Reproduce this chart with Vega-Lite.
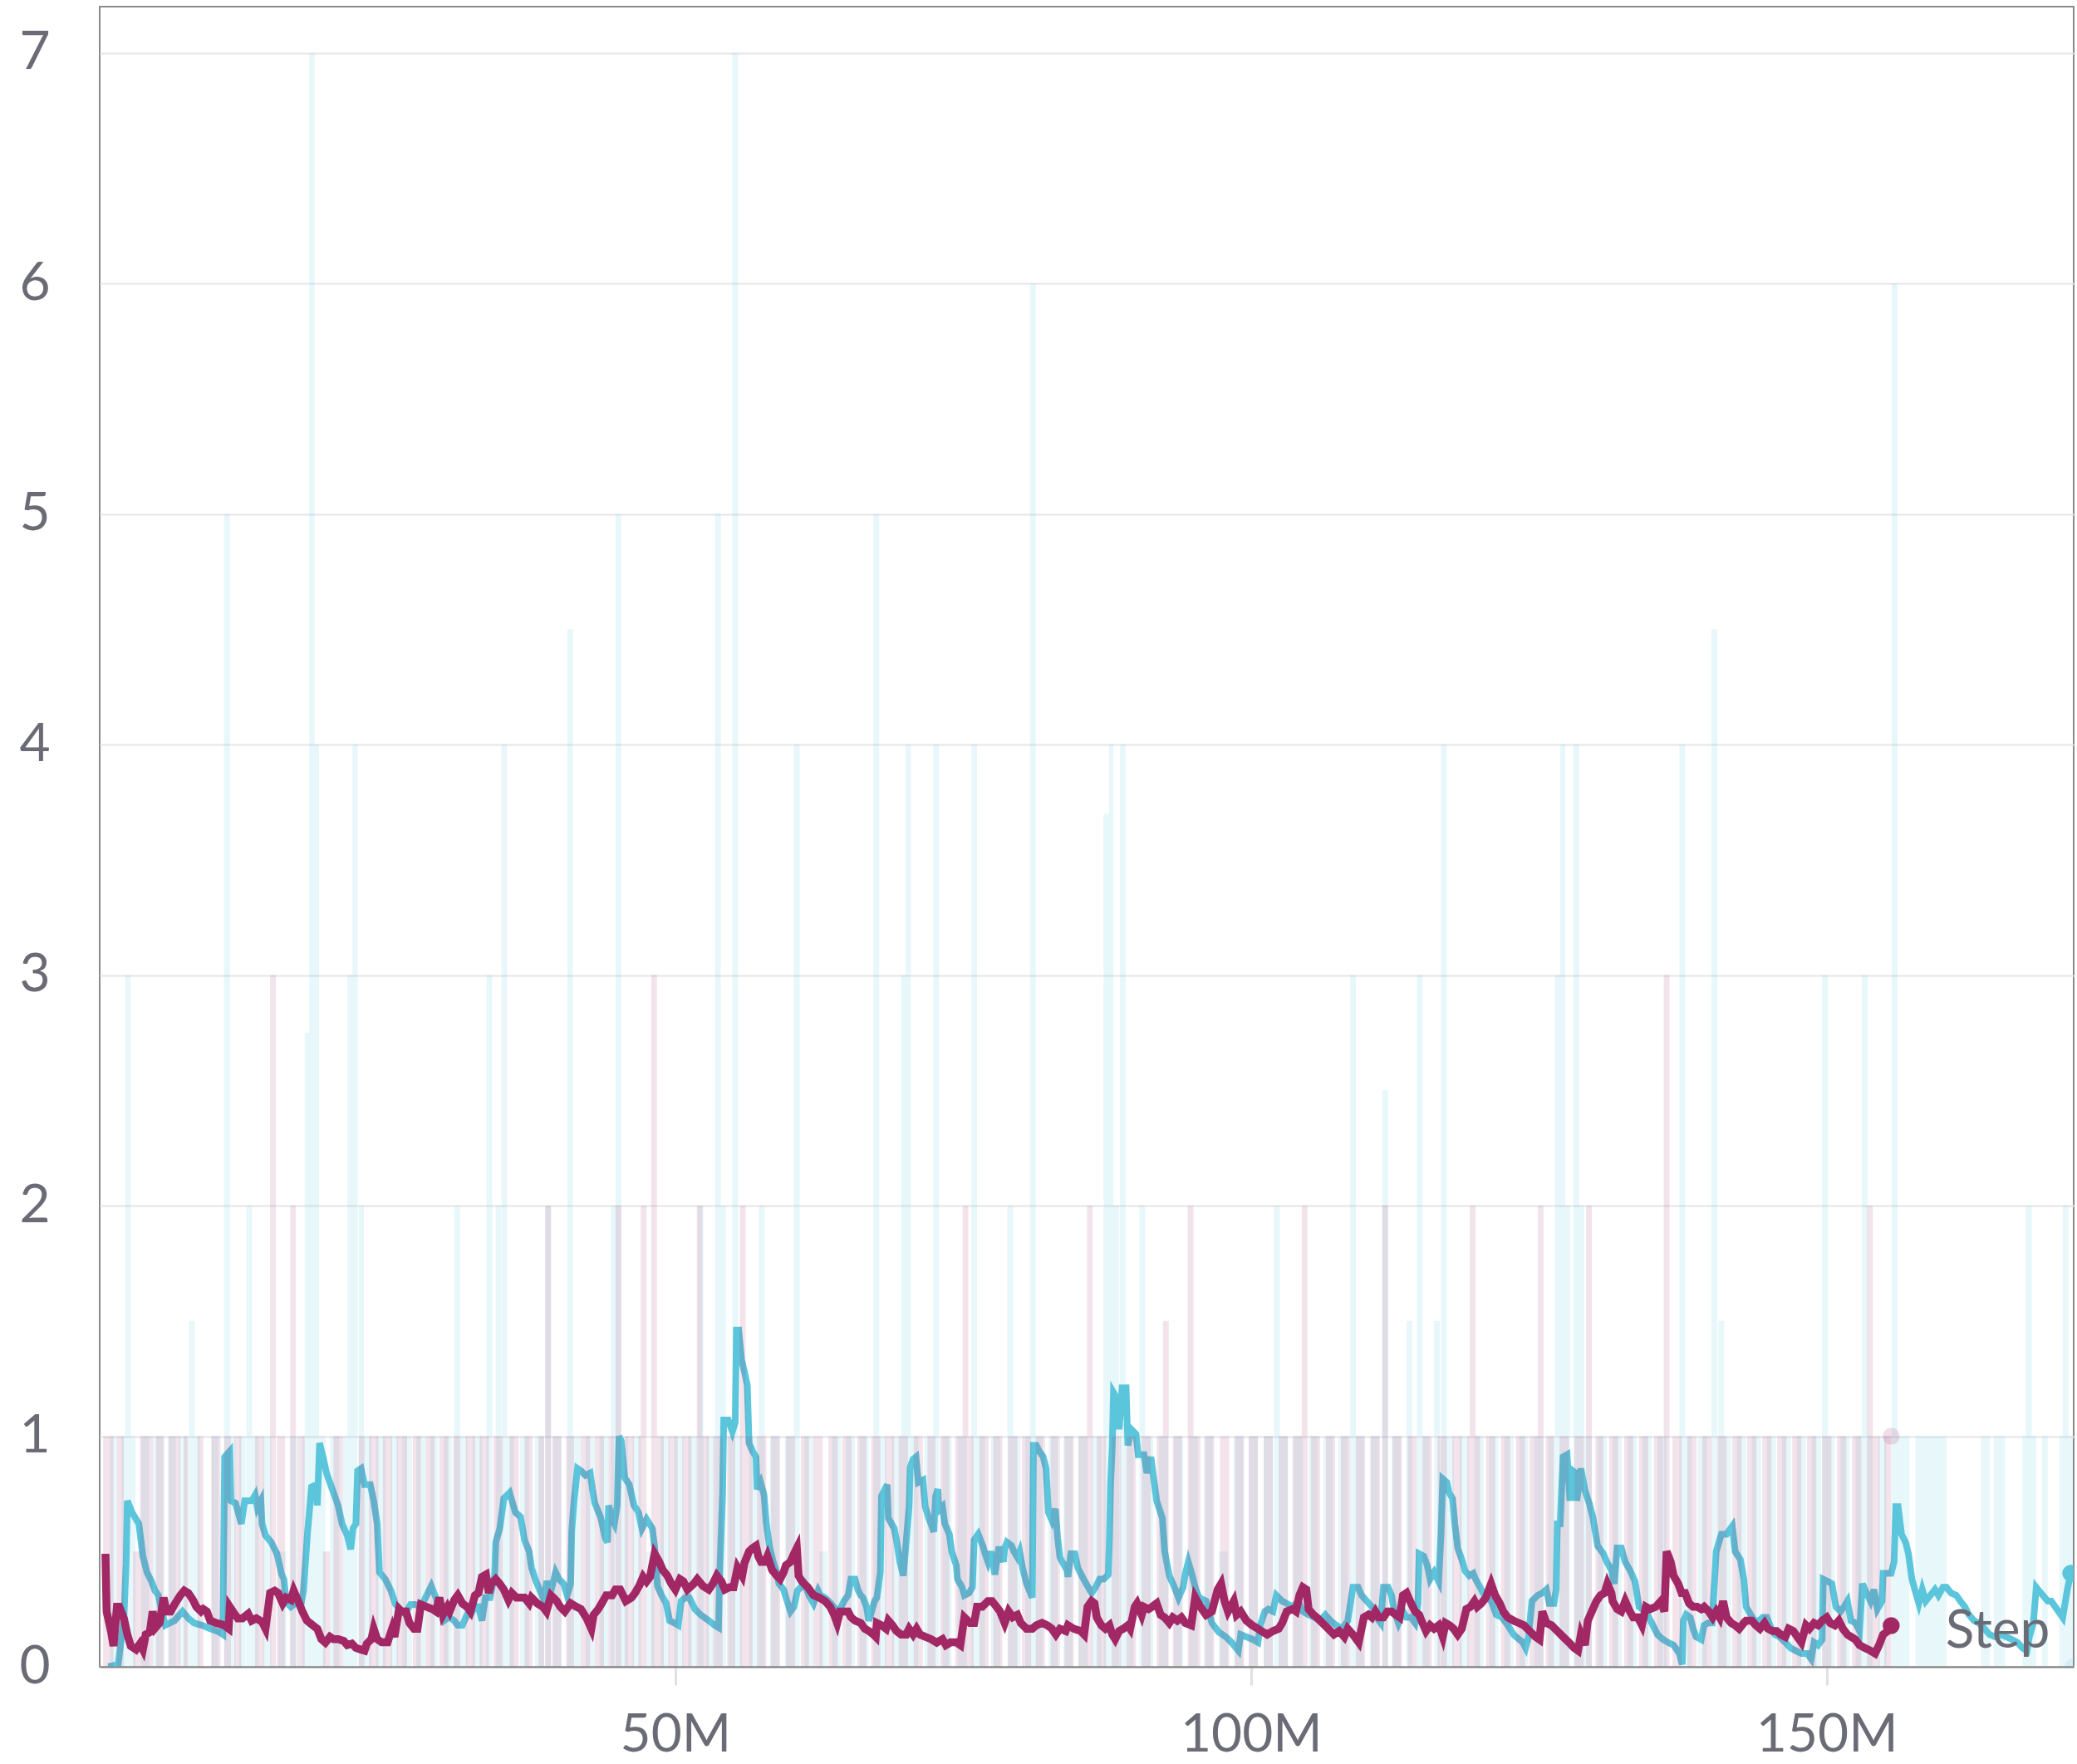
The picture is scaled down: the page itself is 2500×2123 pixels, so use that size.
{
"$schema":"https://vega.github.io/schema/vega-lite/v6.json",
"autosize":{"type":"none"},
"width":2376,"height":1998,
"padding":{"left":120,"top":8,"right":4,"bottom":117},
"background":"white",
"config":{"view":{"stroke":"#8a8a8a","strokeWidth":2},"font":"Lato"},
"datasets":{
"rc":[
{"x":0.9,"x2":1.5,"y":1},{"x":1.9,"x2":2.2,"y":1},{"x":2.2,"x2":2.7,"y":3},{"x":2.7,"x2":3.1,"y":1},{"x":3.6,"x2":4.3,"y":1},{"x":4.6,"x2":5.5,"y":1},{"x":5.9,"x2":6.6,"y":1},{"x":6.9,"x2":7.6,"y":1},{"x":7.75,"x2":8.25,"y":1.5},{"x":8.25,"x2":8.7,"y":1},{"x":9.7,"x2":10.3,"y":1},{"x":10.8,"x2":11.3,"y":5},{"x":11.3,"x2":11.8,"y":1},{"x":12.1,"x2":12.7,"y":1},{"x":12.75,"x2":13.25,"y":2},{"x":13.25,"x2":13.8,"y":1},{"x":14.2,"x2":14.9,"y":1},{"x":15.5,"x2":16.2,"y":0.5},{"x":16.5,"x2":17.2,"y":1},{"x":17.6,"x2":17.8,"y":1},{"x":17.8,"x2":18.2,"y":2.75},{"x":18.2,"x2":18.65,"y":7},{"x":18.65,"x2":19.05,"y":4},{"x":19.05,"x2":19.6,"y":1},{"x":20.0,"x2":20.8,"y":1},{"x":21.1,"x2":21.5,"y":1},{"x":21.5,"x2":21.95,"y":3},{"x":21.95,"x2":22.4,"y":4},{"x":22.5,"x2":22.95,"y":2},{"x":22.95,"x2":23.6,"y":1},{"x":24.0,"x2":24.8,"y":1},{"x":25.3,"x2":25.9,"y":1},{"x":26.3,"x2":27.1,"y":1},{"x":27.5,"x2":28.3,"y":1},{"x":28.7,"x2":29.4,"y":1},{"x":29.9,"x2":30.6,"y":1},{"x":30.8,"x2":31.3,"y":2},{"x":31.3,"x2":31.9,"y":1},{"x":32.4,"x2":33.2,"y":1},{"x":33.6,"x2":34.1,"y":3},{"x":34.4,"x2":34.85,"y":2},{"x":34.9,"x2":35.4,"y":4},{"x":35.4,"x2":36.0,"y":1},{"x":36.5,"x2":37.3,"y":1},{"x":37.8,"x2":38.6,"y":1},{"x":38.7,"x2":39.2,"y":2},{"x":39.4,"x2":40.1,"y":1},{"x":40.6,"x2":41.1,"y":4.5},{"x":41.1,"x2":41.8,"y":1},{"x":42.2,"x2":43.0,"y":1},{"x":43.4,"x2":44.2,"y":1},{"x":44.4,"x2":44.8,"y":2},{"x":44.8,"x2":45.3,"y":5},{"x":45.3,"x2":45.9,"y":1},{"x":46.3,"x2":47.0,"y":1},{"x":47.5,"x2":48.2,"y":0.5},{"x":48.7,"x2":49.5,"y":1},{"x":49.9,"x2":50.7,"y":1},{"x":51.1,"x2":51.9,"y":1},{"x":51.95,"x2":52.45,"y":2},{"x":52.7,"x2":53.4,"y":1},{"x":53.45,"x2":53.95,"y":5},{"x":53.95,"x2":54.4,"y":2},{"x":54.6,"x2":54.95,"y":1},{"x":54.95,"x2":55.45,"y":7},{"x":55.45,"x2":55.8,"y":1},{"x":56.4,"x2":57.2,"y":1},{"x":57.25,"x2":57.75,"y":2},{"x":58.2,"x2":59.0,"y":1},{"x":59.5,"x2":60.3,"y":1},{"x":60.3,"x2":60.8,"y":4},{"x":61.2,"x2":62.0,"y":1},{"x":62.5,"x2":63.2,"y":0.5},{"x":63.6,"x2":64.4,"y":1},{"x":64.8,"x2":65.6,"y":1},{"x":66.0,"x2":66.8,"y":1},{"x":67.2,"x2":67.7,"y":5},{"x":67.7,"x2":68.3,"y":1},{"x":68.8,"x2":69.6,"y":1},{"x":69.6,"x2":70.0,"y":3},{"x":70.0,"x2":70.45,"y":4},{"x":70.45,"x2":71.1,"y":1},{"x":71.6,"x2":72.4,"y":1},{"x":72.4,"x2":72.9,"y":4},{"x":73.2,"x2":74.0,"y":1},{"x":74.5,"x2":75.3,"y":1},{"x":75.7,"x2":76.2,"y":4},{"x":76.2,"x2":76.9,"y":1},{"x":77.4,"x2":78.2,"y":1},{"x":78.85,"x2":79.35,"y":2},{"x":79.35,"x2":80.0,"y":1},{"x":80.4,"x2":80.8,"y":1},{"x":80.8,"x2":81.3,"y":6},{"x":81.3,"x2":81.9,"y":1},{"x":82.4,"x2":83.2,"y":1},{"x":83.7,"x2":84.5,"y":1},{"x":85.0,"x2":85.8,"y":1},{"x":86.2,"x2":87.0,"y":1},{"x":87.2,"x2":87.65,"y":3.7},{"x":87.65,"x2":88.05,"y":4},{"x":88.05,"x2":88.55,"y":2},{"x":88.6,"x2":89.1,"y":4},{"x":89.1,"x2":89.8,"y":1},{"x":90.3,"x2":90.8,"y":2},{"x":90.8,"x2":91.5,"y":1},{"x":92.0,"x2":92.8,"y":1},{"x":93.3,"x2":94.1,"y":1},{"x":94.6,"x2":95.4,"y":1},{"x":95.9,"x2":96.7,"y":1},{"x":97.2,"x2":98.0,"y":0.5},{"x":98.5,"x2":99.3,"y":1},{"x":99.8,"x2":100.6,"y":1},{"x":101.1,"x2":101.9,"y":1},{"x":102.0,"x2":102.5,"y":2},{"x":102.5,"x2":103.2,"y":1},{"x":103.7,"x2":104.5,"y":1},{"x":105.0,"x2":105.8,"y":1},{"x":106.3,"x2":107.1,"y":1},{"x":107.6,"x2":108.4,"y":1},{"x":108.6,"x2":109.1,"y":3},{"x":109.1,"x2":109.8,"y":1},{"x":110.3,"x2":111.1,"y":1},{"x":111.4,"x2":111.9,"y":2.5},{"x":112.2,"x2":113.0,"y":1},{"x":113.5,"x2":114.0,"y":1.5},{"x":114.4,"x2":114.9,"y":3},{"x":114.9,"x2":115.5,"y":1},{"x":115.9,"x2":116.4,"y":1.5},{"x":116.5,"x2":117.0,"y":4},{"x":117.0,"x2":117.6,"y":1},{"x":118.1,"x2":118.9,"y":1},{"x":119.4,"x2":120.2,"y":1},{"x":120.7,"x2":121.5,"y":1},{"x":122.0,"x2":122.8,"y":1},{"x":123.3,"x2":124.1,"y":1},{"x":124.6,"x2":125.4,"y":1},{"x":125.8,"x2":126.4,"y":1},{"x":126.4,"x2":126.85,"y":3},{"x":126.85,"x2":127.3,"y":4},{"x":127.3,"x2":127.7,"y":2},{"x":128.0,"x2":128.5,"y":4},{"x":128.5,"x2":128.95,"y":2},{"x":128.95,"x2":129.6,"y":1},{"x":130.1,"x2":130.9,"y":1},{"x":131.4,"x2":132.2,"y":1},{"x":132.7,"x2":133.5,"y":1},{"x":134.0,"x2":134.8,"y":1},{"x":135.3,"x2":136.1,"y":1},{"x":137.2,"x2":137.7,"y":4},{"x":137.7,"x2":138.3,"y":1},{"x":138.8,"x2":139.6,"y":1},{"x":140.0,"x2":140.5,"y":4.5},{"x":140.6,"x2":141.1,"y":1.5},{"x":141.1,"x2":141.7,"y":1},{"x":142.2,"x2":143.0,"y":1},{"x":143.5,"x2":144.3,"y":1},{"x":144.8,"x2":145.6,"y":1},{"x":146.1,"x2":146.9,"y":1},{"x":147.4,"x2":148.2,"y":1},{"x":148.7,"x2":149.5,"y":1},{"x":149.6,"x2":150.1,"y":3},{"x":150.1,"x2":150.7,"y":1},{"x":151.2,"x2":152.0,"y":1},{"x":152.5,"x2":153.05,"y":1},{"x":153.05,"x2":153.55,"y":3},{"x":153.55,"x2":154.0,"y":1},{"x":154.5,"x2":155.2,"y":1},{"x":155.65,"x2":156.15,"y":6},{"x":156.15,"x2":157.2,"y":1},{"x":157.7,"x2":160.4,"y":1},{"x":163.4,"x2":164.2,"y":1},{"x":164.5,"x2":165.5,"y":1},{"x":167.0,"x2":167.3,"y":1},{"x":167.3,"x2":167.8,"y":2},{"x":167.8,"x2":168.2,"y":1},{"x":168.7,"x2":169.2,"y":1},{"x":170.2,"x2":170.5,"y":1},{"x":170.5,"x2":171.0,"y":2},{"x":171.0,"x2":171.4,"y":1}
],
"rm":[
{"x":0.3,"x2":1.2,"y":1},{"x":1.5,"x2":2.1,"y":1},{"x":2.9,"x2":3.5,"y":0.5},{"x":3.5,"x2":4.6,"y":1},{"x":4.9,"x2":5.6,"y":1},{"x":6.0,"x2":7.0,"y":1},{"x":7.3,"x2":7.7,"y":1},{"x":8.5,"x2":9.0,"y":1},{"x":9.7,"x2":10.5,"y":1},{"x":10.8,"x2":11.4,"y":1},{"x":11.7,"x2":12.3,"y":1},{"x":13.5,"x2":14.3,"y":1},{"x":14.8,"x2":15.3,"y":3},{"x":15.4,"x2":16.1,"y":1},{"x":16.55,"x2":17.05,"y":2},{"x":17.2,"x2":17.8,"y":1},{"x":19.4,"x2":20.0,"y":0.5},{"x":20.3,"x2":21.1,"y":1},{"x":22.5,"x2":23.0,"y":1},{"x":23.4,"x2":24.2,"y":1},{"x":24.6,"x2":25.4,"y":1},{"x":25.8,"x2":26.7,"y":1},{"x":27.2,"x2":27.9,"y":1},{"x":28.3,"x2":29.1,"y":1},{"x":29.5,"x2":30.3,"y":1},{"x":30.7,"x2":31.3,"y":1},{"x":31.8,"x2":32.6,"y":1},{"x":33.0,"x2":33.8,"y":1},{"x":34.2,"x2":35.0,"y":1},{"x":35.6,"x2":36.4,"y":1},{"x":36.9,"x2":37.6,"y":1},{"x":38.1,"x2":38.6,"y":1},{"x":38.7,"x2":39.2,"y":2},{"x":39.3,"x2":40.1,"y":1},{"x":40.5,"x2":41.2,"y":1},{"x":41.8,"x2":42.6,"y":1},{"x":43.0,"x2":43.8,"y":1},{"x":44.2,"x2":44.7,"y":1},{"x":44.8,"x2":45.3,"y":2},{"x":45.6,"x2":46.4,"y":1},{"x":46.8,"x2":47.0,"y":1},{"x":47.0,"x2":47.5,"y":2},{"x":47.9,"x2":48.4,"y":3},{"x":48.4,"x2":49.0,"y":1},{"x":49.4,"x2":50.2,"y":1},{"x":50.6,"x2":51.4,"y":1},{"x":51.85,"x2":52.35,"y":2},{"x":52.35,"x2":52.9,"y":1},{"x":53.3,"x2":54.1,"y":1},{"x":54.5,"x2":55.2,"y":1},{"x":55.6,"x2":56.1,"y":2},{"x":56.1,"x2":56.7,"y":1},{"x":57.1,"x2":57.9,"y":1},{"x":58.3,"x2":59.1,"y":1},{"x":59.6,"x2":60.4,"y":1},{"x":60.9,"x2":61.6,"y":1},{"x":62.0,"x2":62.8,"y":1},{"x":63.3,"x2":64.1,"y":1},{"x":64.5,"x2":65.3,"y":1},{"x":65.8,"x2":66.6,"y":1},{"x":67.0,"x2":67.8,"y":1},{"x":68.2,"x2":69.0,"y":1},{"x":69.4,"x2":70.2,"y":1},{"x":70.7,"x2":71.5,"y":1},{"x":71.9,"x2":72.6,"y":1},{"x":73.0,"x2":73.8,"y":1},{"x":74.3,"x2":74.95,"y":1},{"x":74.95,"x2":75.45,"y":2},{"x":75.45,"x2":75.9,"y":1},{"x":76.4,"x2":77.2,"y":1},{"x":77.6,"x2":78.4,"y":1},{"x":78.9,"x2":79.7,"y":1},{"x":80.1,"x2":80.9,"y":1},{"x":81.3,"x2":82.1,"y":1},{"x":82.6,"x2":83.4,"y":1},{"x":83.8,"x2":84.6,"y":1},{"x":85.0,"x2":85.75,"y":1},{"x":85.75,"x2":86.25,"y":2},{"x":86.6,"x2":87.4,"y":1},{"x":87.9,"x2":88.7,"y":1},{"x":89.2,"x2":90.0,"y":1},{"x":90.5,"x2":91.3,"y":1},{"x":91.8,"x2":92.35,"y":1},{"x":92.35,"x2":92.85,"y":1.5},{"x":93.2,"x2":94.0,"y":1},{"x":94.5,"x2":95.0,"y":2},{"x":95.0,"x2":95.6,"y":1},{"x":96.0,"x2":96.8,"y":1},{"x":97.3,"x2":98.1,"y":1},{"x":98.6,"x2":99.4,"y":1},{"x":99.8,"x2":100.6,"y":1},{"x":101.1,"x2":101.9,"y":1},{"x":102.4,"x2":103.2,"y":1},{"x":103.6,"x2":104.4,"y":1},{"x":104.4,"x2":104.9,"y":2},{"x":105.2,"x2":106.0,"y":1},{"x":106.5,"x2":107.3,"y":1},{"x":107.8,"x2":108.6,"y":1},{"x":109.1,"x2":109.9,"y":1},{"x":110.4,"x2":111.2,"y":1},{"x":111.4,"x2":111.9,"y":2},{"x":112.3,"x2":113.1,"y":1},{"x":113.6,"x2":114.4,"y":1},{"x":114.9,"x2":115.7,"y":1},{"x":116.2,"x2":117.0,"y":1},{"x":117.5,"x2":118.3,"y":1},{"x":118.8,"x2":119.0,"y":1},{"x":119.0,"x2":119.5,"y":2},{"x":119.5,"x2":119.9,"y":1},{"x":120.4,"x2":121.2,"y":1},{"x":121.7,"x2":122.5,"y":1},{"x":123.0,"x2":123.8,"y":1},{"x":124.2,"x2":124.9,"y":1},{"x":124.9,"x2":125.4,"y":2},{"x":125.6,"x2":126.3,"y":1},{"x":126.8,"x2":127.6,"y":1},{"x":128.1,"x2":128.9,"y":1},{"x":129.1,"x2":129.6,"y":2},{"x":129.9,"x2":130.6,"y":1},{"x":131.1,"x2":131.9,"y":1},{"x":132.4,"x2":133.2,"y":1},{"x":133.7,"x2":134.5,"y":1},{"x":135.0,"x2":135.8,"y":1},{"x":135.85,"x2":136.35,"y":3},{"x":136.6,"x2":137.4,"y":1},{"x":137.9,"x2":138.7,"y":1},{"x":139.2,"x2":140.0,"y":1},{"x":140.5,"x2":141.3,"y":1},{"x":141.8,"x2":142.6,"y":1},{"x":143.1,"x2":143.9,"y":1},{"x":144.4,"x2":145.2,"y":1},{"x":145.7,"x2":146.5,"y":1},{"x":147.0,"x2":147.8,"y":1},{"x":148.3,"x2":149.1,"y":1},{"x":149.6,"x2":150.4,"y":1},{"x":150.9,"x2":151.7,"y":1},{"x":152.2,"x2":153.0,"y":1},{"x":153.5,"x2":154.0,"y":2},{"x":154.0,"x2":154.6,"y":1},{"x":155.0,"x2":155.6,"y":1}
],
"sc":[
{"x":0.75,"y":0},{"x":1.6,"y":0.01},{"x":2.1,"y":0.21},{"x":2.3,"y":0.45},{"x":2.4,"y":0.72},{"x":2.8,"y":0.67},{"x":3.4,"y":0.62},{"x":3.75,"y":0.48},{"x":4.1,"y":0.41},{"x":4.5,"y":0.37},{"x":4.8,"y":0.33},{"x":5.1,"y":0.31},{"x":5.3,"y":0.26},{"x":5.7,"y":0.18},{"x":6.5,"y":0.2},{"x":7.2,"y":0.24},{"x":7.7,"y":0.21},{"x":8.2,"y":0.19},{"x":8.9,"y":0.18},{"x":9.6,"y":0.165},{"x":10.4,"y":0.15},{"x":10.7,"y":0.14},{"x":10.85,"y":0.91},{"x":11.3,"y":0.935},{"x":11.4,"y":0.72},{"x":11.8,"y":0.71},{"x":12.3,"y":0.62},{"x":12.6,"y":0.72},{"x":13.2,"y":0.72},{"x":13.5,"y":0.745},{"x":13.7,"y":0.69},{"x":14.0,"y":0.72},{"x":14.1,"y":0.62},{"x":14.4,"y":0.57},{"x":14.9,"y":0.54},{"x":15.4,"y":0.49},{"x":15.8,"y":0.4},{"x":16.0,"y":0.38},{"x":16.2,"y":0.28},{"x":16.6,"y":0.26},{"x":17.1,"y":0.28},{"x":17.45,"y":0.26},{"x":17.7,"y":0.33},{"x":18.05,"y":0.58},{"x":18.4,"y":0.78},{"x":18.8,"y":0.79},{"x":18.9,"y":0.7},{"x":19.1,"y":0.97},{"x":19.4,"y":0.91},{"x":19.7,"y":0.84},{"x":20.2,"y":0.77},{"x":20.7,"y":0.7},{"x":21.05,"y":0.62},{"x":21.5,"y":0.57},{"x":21.8,"y":0.51},{"x":22.0,"y":0.6},{"x":22.25,"y":0.62},{"x":22.4,"y":0.85},{"x":22.7,"y":0.86},{"x":23.0,"y":0.79},{"x":23.5,"y":0.79},{"x":23.8,"y":0.72},{"x":24.1,"y":0.62},{"x":24.3,"y":0.41},{"x":24.8,"y":0.38},{"x":25.3,"y":0.33},{"x":25.7,"y":0.27},{"x":26.1,"y":0.25},{"x":26.5,"y":0.23},{"x":27.0,"y":0.27},{"x":27.4,"y":0.27},
{"x":27.9,"y":0.26},{"x":28.8,"y":0.35},{"x":29.2,"y":0.3},{"x":29.6,"y":0.24},{"x":29.9,"y":0.2},{"x":30.3,"y":0.215},{"x":30.8,"y":0.2},{"x":31.1,"y":0.18},{"x":31.5,"y":0.18},{"x":31.9,"y":0.225},{"x":32.2,"y":0.225},{"x":32.6,"y":0.26},{"x":32.9,"y":0.26},{"x":33.2,"y":0.2},{"x":33.5,"y":0.3},{"x":33.9,"y":0.3},{"x":34.3,"y":0.395},{"x":34.4,"y":0.54},{"x":34.75,"y":0.6},{"x":35.1,"y":0.73},{"x":35.6,"y":0.755},{"x":36.1,"y":0.67},{"x":36.55,"y":0.65},{"x":36.9,"y":0.55},{"x":37.3,"y":0.5},{"x":37.5,"y":0.43},{"x":37.9,"y":0.37},{"x":38.2,"y":0.335},{"x":38.6,"y":0.29},{"x":38.8,"y":0.36},{"x":39.1,"y":0.36},{"x":39.3,"y":0.35},{"x":39.6,"y":0.41},{"x":39.9,"y":0.38},{"x":40.3,"y":0.36},{"x":40.6,"y":0.31},{"x":40.9,"y":0.36},{"x":41.0,"y":0.59},{"x":41.2,"y":0.72},{"x":41.5,"y":0.86},{"x":41.8,"y":0.85},{"x":42.2,"y":0.83},{"x":42.6,"y":0.84},{"x":42.8,"y":0.77},{"x":43.0,"y":0.71},{"x":43.5,"y":0.65},{"x":43.9,"y":0.56},{"x":44.1,"y":0.54},{"x":44.2,"y":0.7},{"x":44.5,"y":0.64},{"x":44.7,"y":0.62},{"x":44.95,"y":0.7},{"x":45.1,"y":1.0},{"x":45.3,"y":0.98},{"x":45.6,"y":0.82},{"x":46.0,"y":0.79},{"x":46.4,"y":0.7},{"x":46.8,"y":0.67},{"x":47.1,"y":0.6},{"x":47.5,"y":0.64},{"x":48.0,"y":0.6},{"x":48.2,"y":0.52},{"x":48.45,"y":0.35},{"x":48.8,"y":0.31},{"x":49.2,"y":0.275},{"x":49.5,"y":0.2},{"x":49.9,"y":0.19},{"x":50.25,"y":0.18},{"x":50.5,"y":0.285},{"x":50.85,"y":0.3},{"x":51.2,"y":0.3},{"x":51.7,"y":0.25},{"x":52.2,"y":0.225},{"x":52.9,"y":0.2},{"x":53.4,"y":0.18},{"x":53.75,"y":0.17},{"x":53.85,"y":0.4},{"x":54.1,"y":0.75},{"x":54.2,"y":1.07},{"x":54.6,"y":1.07},{"x":54.95,"y":1.02},{"x":55.2,"y":1.06},{"x":55.3,"y":1.46},{"x":55.5,"y":1.46},{"x":55.75,"y":1.33},
{"x":56.0,"y":1.28},{"x":56.25,"y":1.22},{"x":56.4,"y":0.97},{"x":56.7,"y":0.935},{"x":57.0,"y":0.91},{"x":57.1,"y":0.77},{"x":57.4,"y":0.8},{"x":57.7,"y":0.745},{"x":57.9,"y":0.62},{"x":58.2,"y":0.515},{"x":58.5,"y":0.455},{"x":58.8,"y":0.41},{"x":59.0,"y":0.36},{"x":59.4,"y":0.335},{"x":59.7,"y":0.285},{"x":60.0,"y":0.24},{"x":60.3,"y":0.26},{"x":60.6,"y":0.33},{"x":61.2,"y":0.36},{"x":61.6,"y":0.31},{"x":62.0,"y":0.275},{"x":62.4,"y":0.33},{"x":62.6,"y":0.31},{"x":63.0,"y":0.3},{"x":63.5,"y":0.275},{"x":63.9,"y":0.25},{"x":64.3,"y":0.25},{"x":64.65,"y":0.285},{"x":65.0,"y":0.31},{"x":65.25,"y":0.38},{"x":65.6,"y":0.38},{"x":65.85,"y":0.335},{"x":66.1,"y":0.31},{"x":66.3,"y":0.3},{"x":66.6,"y":0.26},{"x":66.8,"y":0.2},{"x":67.05,"y":0.24},{"x":67.3,"y":0.285},{"x":67.5,"y":0.3},{"x":67.8,"y":0.41},{"x":67.9,"y":0.74},{"x":68.4,"y":0.79},{"x":68.5,"y":0.645},{"x":69.0,"y":0.6},{"x":69.2,"y":0.55},{"x":69.5,"y":0.455},{"x":69.8,"y":0.395},{"x":70.0,"y":0.515},{"x":70.3,"y":0.695},{"x":70.4,"y":0.865},{"x":70.65,"y":0.9},{"x":70.9,"y":0.91},{"x":71.1,"y":0.8},{"x":71.5,"y":0.81},{"x":71.7,"y":0.695},{"x":72.0,"y":0.645},{"x":72.2,"y":0.62},{"x":72.45,"y":0.585},{"x":72.6,"y":0.74},{"x":72.8,"y":0.77},{"x":72.9,"y":0.68},{"x":73.2,"y":0.695},{"x":73.4,"y":0.62},{"x":73.8,"y":0.575},{"x":74.0,"y":0.5},{"x":74.4,"y":0.44},{"x":74.5,"y":0.38},{"x":74.9,"y":0.345},{"x":75.1,"y":0.31},{"x":75.5,"y":0.32},{"x":75.8,"y":0.345},{"x":75.95,"y":0.55},{"x":76.3,"y":0.575},{"x":76.7,"y":0.525},{"x":76.9,"y":0.49},{"x":77.15,"y":0.455},{"x":77.4,"y":0.5},{"x":77.75,"y":0.4},{"x":78.1,"y":0.52},{"x":78.5,"y":0.455},{"x":78.6,"y":0.515},{"x":78.8,"y":0.54},{"x":79.2,"y":0.525},{"x":79.4,"y":0.5},{"x":79.7,"y":0.475},{"x":79.9,"y":0.5},{"x":80.15,"y":0.43},{"x":80.5,"y":0.36},{"x":81.0,"y":0.3},{"x":81.1,"y":0.96},{"x":81.35,"y":0.96},{"x":81.6,"y":0.935},{"x":81.95,"y":0.91},{"x":82.2,"y":0.86},{"x":82.4,"y":0.67},{"x":82.7,"y":0.635},{"x":83.0,"y":0.685},{"x":83.2,"y":0.56},{"x":83.4,"y":0.475},{"x":83.6,"y":0.455},{"x":84.0,"y":0.42},
{"x":84.1,"y":0.39},{"x":84.35,"y":0.49},{"x":84.7,"y":0.49},{"x":84.95,"y":0.43},{"x":85.3,"y":0.395},{"x":85.8,"y":0.35},{"x":86.15,"y":0.32},{"x":86.5,"y":0.345},{"x":86.85,"y":0.38},{"x":87.2,"y":0.38},{"x":87.6,"y":0.4},{"x":87.7,"y":0.55},{"x":87.8,"y":0.79},{"x":87.95,"y":0.96},{"x":88.05,"y":1.19},{"x":88.4,"y":1.16},{"x":88.55,"y":1.03},{"x":88.8,"y":1.21},{"x":89.15,"y":1.21},{"x":89.3,"y":0.96},{"x":89.6,"y":1.03},{"x":90.0,"y":1.01},{"x":90.2,"y":0.92},{"x":90.7,"y":0.92},{"x":90.95,"y":0.84},{"x":91.3,"y":0.91},{"x":91.55,"y":0.815},{"x":91.8,"y":0.72},{"x":92.3,"y":0.645},{"x":92.5,"y":0.5},{"x":92.9,"y":0.395},{"x":93.35,"y":0.345},{"x":93.7,"y":0.3},{"x":94.1,"y":0.345},{"x":94.3,"y":0.405},{"x":94.55,"y":0.455},{"x":94.9,"y":0.395},{"x":95.2,"y":0.335},{"x":95.5,"y":0.3},{"x":96.1,"y":0.285},{"x":96.6,"y":0.19},{"x":97.2,"y":0.15},{"x":97.8,"y":0.13},{"x":98.3,"y":0.106},{"x":98.9,"y":0.07},{"x":99.1,"y":0.14},{"x":99.6,"y":0.13},{"x":100.1,"y":0.12},{"x":100.6,"y":0.106},{"x":100.8,"y":0.18},{"x":101.2,"y":0.24},{"x":101.5,"y":0.25},{"x":101.9,"y":0.24},{"x":102.2,"y":0.31},{"x":102.7,"y":0.285},{"x":103.1,"y":0.275},{"x":103.6,"y":0.26},{"x":104.1,"y":0.285},{"x":104.5,"y":0.24},{"x":105.0,"y":0.225},{"x":105.5,"y":0.214},{"x":106.0,"y":0.2},{"x":106.45,"y":0.225},{"x":106.9,"y":0.2},{"x":107.4,"y":0.18},{"x":107.9,"y":0.165},{"x":108.4,"y":0.2},{"x":108.85,"y":0.345},{"x":109.3,"y":0.345},{"x":109.6,"y":0.31},{"x":110.05,"y":0.285},{"x":110.5,"y":0.26},{"x":110.9,"y":0.214},{"x":111.25,"y":0.19},{"x":111.5,"y":0.345},{"x":111.9,"y":0.345},
{"x":112.2,"y":0.31},{"x":112.45,"y":0.24},{"x":112.8,"y":0.19},{"x":113.2,"y":0.24},{"x":113.5,"y":0.214},{"x":113.9,"y":0.214},{"x":114.25,"y":0.19},{"x":114.5,"y":0.275},{"x":114.6,"y":0.49},{"x":115.0,"y":0.48},{"x":115.3,"y":0.44},{"x":115.55,"y":0.38},{"x":115.9,"y":0.41},{"x":116.3,"y":0.37},{"x":116.5,"y":0.575},{"x":116.65,"y":0.815},{"x":117.0,"y":0.8},{"x":117.2,"y":0.755},{"x":117.5,"y":0.73},{"x":117.7,"y":0.62},{"x":117.95,"y":0.515},{"x":118.3,"y":0.465},{"x":118.6,"y":0.415},{"x":118.95,"y":0.395},{"x":119.3,"y":0.405},{"x":119.5,"y":0.38},{"x":119.9,"y":0.345},{"x":120.25,"y":0.31},{"x":120.85,"y":0.285},{"x":121.3,"y":0.226},{"x":121.8,"y":0.214},{"x":122.3,"y":0.18},{"x":122.8,"y":0.14},{"x":123.25,"y":0.12},{"x":123.6,"y":0.106},{"x":123.85,"y":0.082},{"x":124.1,"y":0.13},{"x":124.4,"y":0.285},{"x":124.9,"y":0.31},{"x":125.3,"y":0.32},{"x":125.65,"y":0.335},{"x":125.9,"y":0.275},{"x":126.3,"y":0.275},{"x":126.5,"y":0.335},{"x":126.6,"y":0.62},{"x":126.85,"y":0.62},{"x":127.1,"y":0.91},{"x":127.45,"y":0.92},{"x":127.7,"y":0.72},{"x":127.95,"y":0.85},{"x":128.2,"y":0.84},{"x":128.3,"y":0.72},{"x":128.65,"y":0.86},{"x":129.0,"y":0.765},{"x":129.4,"y":0.705},{"x":129.7,"y":0.645},{"x":130.1,"y":0.525},{"x":130.6,"y":0.49},{"x":130.9,"y":0.455},{"x":131.3,"y":0.42},{"x":131.55,"y":0.36},{"x":131.8,"y":0.515},{"x":132.15,"y":0.515},{"x":132.5,"y":0.455},{"x":132.9,"y":0.42},{"x":133.35,"y":0.37},{"x":133.7,"y":0.26},{"x":134.3,"y":0.24},{"x":134.8,"y":0.19},{"x":135.3,"y":0.14},{"x":135.8,"y":0.118},{"x":136.2,"y":0.106},{"x":136.7,"y":0.094},{"x":137.2,"y":0.058},{"x":137.45,"y":0.01},{"x":137.55,"y":0.2},{"x":137.8,"y":0.226},{"x":138.15,"y":0.214},{"x":138.4,"y":0.165},{"x":138.65,"y":0.13},{"x":139.1,"y":0.118},{"x":139.35,"y":0.18},{"x":139.7,"y":0.19},{"x":140.05,"y":0.19},
{"x":140.4,"y":0.5},{"x":140.85,"y":0.575},{"x":141.3,"y":0.575},{"x":141.8,"y":0.61},{"x":142.05,"y":0.5},{"x":142.5,"y":0.465},{"x":142.8,"y":0.38},{"x":143.0,"y":0.26},{"x":143.4,"y":0.226},{"x":143.7,"y":0.2},{"x":144.1,"y":0.2},{"x":144.45,"y":0.214},{"x":144.8,"y":0.214},{"x":145.2,"y":0.165},{"x":145.5,"y":0.14},{"x":145.9,"y":0.13},{"x":146.4,"y":0.106},{"x":146.85,"y":0.082},{"x":147.3,"y":0.07},{"x":147.8,"y":0.058},{"x":148.3,"y":0.058},{"x":148.65,"y":0.034},{"x":148.9,"y":0.106},{"x":149.25,"y":0.094},{"x":149.6,"y":0.118},{"x":149.7,"y":0.38},{"x":150.1,"y":0.37},{"x":150.45,"y":0.36},{"x":150.8,"y":0.26},{"x":151.2,"y":0.24},{"x":151.5,"y":0.26},{"x":151.8,"y":0.285},{"x":152.1,"y":0.2},{"x":152.5,"y":0.19},{"x":152.85,"y":0.155},{"x":153.1,"y":0.36},{"x":153.45,"y":0.32},{"x":153.8,"y":0.285},{"x":154.1,"y":0.335},{"x":154.4,"y":0.25},{"x":154.8,"y":0.285},{"x":154.9,"y":0.405},{"x":155.3,"y":0.405},{"x":155.6,"y":0.405},{"x":155.85,"y":0.455},{"x":156.0,"y":0.695},{"x":156.2,"y":0.695},{"x":156.5,"y":0.575},{"x":156.85,"y":0.54},{"x":157.1,"y":0.49},{"x":157.4,"y":0.38},{"x":157.65,"y":0.335},{"x":158.0,"y":0.275},{"x":158.3,"y":0.335},{"x":158.6,"y":0.285},{"x":159.0,"y":0.31},{"x":159.4,"y":0.335},{"x":159.7,"y":0.31},{"x":160.1,"y":0.345},{"x":160.4,"y":0.345},{"x":160.8,"y":0.32},{"x":161.25,"y":0.31},{"x":161.6,"y":0.285},{"x":162.0,"y":0.26},{"x":162.35,"y":0.226},{"x":162.8,"y":0.2},{"x":163.2,"y":0.19},{"x":163.7,"y":0.165},{"x":164.15,"y":0.14},{"x":164.6,"y":0.13},{"x":165.1,"y":0.14},{"x":165.6,"y":0.13},{"x":166.1,"y":0.118},{"x":166.55,"y":0.106},{"x":167.0,"y":0.082},{"x":167.4,"y":0.07},{"x":167.6,"y":0.13},{"x":167.95,"y":0.19},{"x":168.2,"y":0.345},{"x":168.6,"y":0.32},{"x":169.2,"y":0.285},{"x":169.5,"y":0.285},{"x":169.85,"y":0.26},{"x":170.5,"y":0.214},{"x":170.9,"y":0.335},{"x":171.2,"y":0.405}
],
"sm":[
{"x":0.5,"y":0.49},{"x":0.6,"y":0.24},{"x":1.0,"y":0.15},{"x":1.2,"y":0.09},{"x":1.5,"y":0.26},{"x":1.7,"y":0.26},{"x":2.1,"y":0.21},{"x":2.4,"y":0.14},{"x":2.7,"y":0.09},{"x":3.15,"y":0.075},{"x":3.5,"y":0.1},{"x":3.75,"y":0.075},{"x":4.0,"y":0.14},{"x":4.35,"y":0.15},{"x":4.6,"y":0.24},{"x":4.85,"y":0.17},{"x":5.2,"y":0.19},{"x":5.55,"y":0.3},{"x":5.8,"y":0.24},{"x":6.15,"y":0.24},{"x":6.5,"y":0.27},{"x":7.0,"y":0.31},{"x":7.35,"y":0.33},{"x":7.7,"y":0.32},{"x":8.1,"y":0.29},{"x":8.4,"y":0.26},{"x":8.8,"y":0.24},{"x":9.0,"y":0.25},{"x":9.3,"y":0.24},{"x":9.6,"y":0.2},{"x":10.1,"y":0.19},{"x":10.5,"y":0.185},{"x":10.8,"y":0.18},{"x":11.2,"y":0.165},{"x":11.3,"y":0.26},{"x":11.7,"y":0.23},{"x":12.0,"y":0.21},{"x":12.4,"y":0.21},{"x":12.9,"y":0.23},{"x":13.2,"y":0.2},{"x":13.6,"y":0.21},{"x":14.1,"y":0.195},{"x":14.4,"y":0.165},{"x":14.8,"y":0.32},{"x":15.2,"y":0.33},{"x":15.5,"y":0.32},{"x":15.9,"y":0.275},{"x":16.2,"y":0.3},{"x":16.6,"y":0.29},{"x":16.85,"y":0.33},{"x":17.2,"y":0.29},{"x":17.6,"y":0.24},{"x":18.0,"y":0.2},{"x":18.5,"y":0.18},{"x":18.9,"y":0.165},{"x":19.25,"y":0.12},{"x":19.6,"y":0.105},{"x":20.0,"y":0.13},{"x":20.3,"y":0.12},{"x":20.7,"y":0.12},{"x":21.2,"y":0.112},{"x":21.5,"y":0.094},{"x":21.9,"y":0.1},{"x":22.25,"y":0.082},{"x":22.6,"y":0.076},{"x":23.0,"y":0.07},{"x":23.2,"y":0.1},{"x":23.6,"y":0.12},{"x":23.8,"y":0.165},{"x":24.1,"y":0.12},{"x":24.5,"y":0.106},{"x":25.0,"y":0.106},{"x":25.4,"y":0.165},{"x":25.6,"y":0.13},{"x":26.0,"y":0.25},{"x":26.2,"y":0.24},{"x":26.6,"y":0.24},{"x":26.9,"y":0.19},{"x":27.3,"y":0.165},{"x":27.6,"y":0.165},
{"x":27.9,"y":0.27},{"x":28.4,"y":0.26},{"x":28.9,"y":0.25},{"x":29.2,"y":0.24},{"x":29.5,"y":0.3},{"x":29.8,"y":0.225},{"x":30.2,"y":0.26},{"x":30.4,"y":0.24},{"x":30.8,"y":0.29},{"x":31.1,"y":0.31},{"x":31.5,"y":0.275},{"x":31.9,"y":0.26},{"x":32.2,"y":0.24},{"x":32.6,"y":0.31},{"x":32.9,"y":0.32},{"x":33.2,"y":0.39},{"x":33.55,"y":0.4},{"x":33.8,"y":0.32},{"x":34.0,"y":0.36},{"x":34.4,"y":0.38},{"x":34.75,"y":0.36},{"x":35.1,"y":0.335},{"x":35.5,"y":0.29},{"x":35.8,"y":0.32},{"x":36.2,"y":0.3},{"x":36.55,"y":0.3},{"x":36.9,"y":0.3},{"x":37.3,"y":0.275},{"x":37.5,"y":0.3},{"x":38.0,"y":0.275},{"x":38.5,"y":0.26},{"x":38.8,"y":0.24},{"x":39.2,"y":0.31},{"x":39.7,"y":0.285},{"x":40.0,"y":0.26},{"x":40.4,"y":0.24},{"x":40.9,"y":0.275},{"x":41.4,"y":0.26},{"x":41.8,"y":0.25},{"x":42.3,"y":0.21},{"x":42.7,"y":0.165},{"x":42.9,"y":0.225},{"x":43.3,"y":0.25},{"x":43.6,"y":0.275},{"x":44.0,"y":0.31},{"x":44.5,"y":0.31},{"x":44.8,"y":0.335},{"x":45.2,"y":0.335},{"x":45.7,"y":0.285},{"x":46.2,"y":0.3},{"x":46.5,"y":0.32},{"x":46.9,"y":0.355},{"x":47.2,"y":0.39},{"x":47.5,"y":0.37},{"x":47.8,"y":0.39},{"x":48.2,"y":0.49},{"x":48.6,"y":0.455},{"x":48.9,"y":0.42},{"x":49.3,"y":0.395},{"x":49.65,"y":0.36},{"x":50.0,"y":0.335},{"x":50.4,"y":0.38},{"x":50.7,"y":0.37},{"x":51.05,"y":0.335},{"x":51.6,"y":0.36},{"x":51.9,"y":0.38},{"x":52.4,"y":0.35},{"x":52.9,"y":0.335},{"x":53.25,"y":0.36},{"x":53.6,"y":0.395},{"x":54.0,"y":0.37},{"x":54.3,"y":0.335},{"x":54.7,"y":0.345},{"x":55.05,"y":0.345},{"x":55.4,"y":0.43},{"x":55.8,"y":0.395},
{"x":56.0,"y":0.45},{"x":56.4,"y":0.5},{"x":56.7,"y":0.515},{"x":57.0,"y":0.525},{"x":57.2,"y":0.48},{"x":57.45,"y":0.455},{"x":57.8,"y":0.455},{"x":58.0,"y":0.48},{"x":58.4,"y":0.42},{"x":58.8,"y":0.395},{"x":59.1,"y":0.38},{"x":59.4,"y":0.41},{"x":59.6,"y":0.44},{"x":60.0,"y":0.455},{"x":60.3,"y":0.49},{"x":60.55,"y":0.515},{"x":60.7,"y":0.395},{"x":61.0,"y":0.37},{"x":61.5,"y":0.345},{"x":62.0,"y":0.31},{"x":62.5,"y":0.3},{"x":63.0,"y":0.285},{"x":63.45,"y":0.26},{"x":63.8,"y":0.225},{"x":64.05,"y":0.19},{"x":64.3,"y":0.24},{"x":64.65,"y":0.24},{"x":65.0,"y":0.24},{"x":65.25,"y":0.215},{"x":65.6,"y":0.2},{"x":66.1,"y":0.19},{"x":66.45,"y":0.165},{"x":66.8,"y":0.155},{"x":67.2,"y":0.14},{"x":67.4,"y":0.13},{"x":67.5,"y":0.19},{"x":67.9,"y":0.18},{"x":68.3,"y":0.165},{"x":68.5,"y":0.2},{"x":68.85,"y":0.18},{"x":69.2,"y":0.155},{"x":69.6,"y":0.14},{"x":70.05,"y":0.14},{"x":70.3,"y":0.165},{"x":70.65,"y":0.14},{"x":70.95,"y":0.165},{"x":71.25,"y":0.14},{"x":71.7,"y":0.13},{"x":72.2,"y":0.12},{"x":72.7,"y":0.105},{"x":73.2,"y":0.12},{"x":73.5,"y":0.094},{"x":73.9,"y":0.106},{"x":74.4,"y":0.106},{"x":74.75,"y":0.094},{"x":75.1,"y":0.214},{"x":75.6,"y":0.19},{"x":75.95,"y":0.19},{"x":76.2,"y":0.26},{"x":76.65,"y":0.26},{"x":77.15,"y":0.285},{"x":77.5,"y":0.285},{"x":77.9,"y":0.26},{"x":78.2,"y":0.24},{"x":78.6,"y":0.19},{"x":78.95,"y":0.24},{"x":79.3,"y":0.215},{"x":79.7,"y":0.225},{"x":80.0,"y":0.19},{"x":80.5,"y":0.165},{"x":81.0,"y":0.165},{"x":81.35,"y":0.18},{"x":81.85,"y":0.19},{"x":82.3,"y":0.18},{"x":82.7,"y":0.165},{"x":83.05,"y":0.14},{"x":83.4,"y":0.165},{"x":83.9,"y":0.155},
{"x":84.1,"y":0.18},{"x":84.6,"y":0.165},{"x":85.2,"y":0.155},{"x":85.5,"y":0.14},{"x":85.8,"y":0.26},{"x":86.15,"y":0.285},{"x":86.4,"y":0.275},{"x":86.6,"y":0.214},{"x":87.0,"y":0.18},{"x":87.35,"y":0.165},{"x":87.7,"y":0.18},{"x":87.95,"y":0.14},{"x":88.2,"y":0.12},{"x":88.55,"y":0.155},{"x":88.9,"y":0.165},{"x":89.3,"y":0.18},{"x":89.5,"y":0.165},{"x":89.9,"y":0.26},{"x":90.1,"y":0.275},{"x":90.5,"y":0.225},{"x":90.7,"y":0.26},{"x":91.1,"y":0.25},{"x":91.4,"y":0.26},{"x":91.8,"y":0.275},{"x":92.15,"y":0.225},{"x":92.5,"y":0.214},{"x":92.9,"y":0.19},{"x":93.2,"y":0.214},{"x":93.6,"y":0.2},{"x":93.95,"y":0.214},{"x":94.3,"y":0.19},{"x":94.8,"y":0.18},{"x":95.15,"y":0.3},{"x":95.6,"y":0.26},{"x":96.1,"y":0.225},{"x":96.6,"y":0.24},{"x":97.1,"y":0.335},{"x":97.4,"y":0.36},{"x":97.7,"y":0.285},{"x":98.0,"y":0.24},{"x":98.5,"y":0.285},{"x":98.75,"y":0.225},{"x":99.1,"y":0.24},{"x":99.6,"y":0.2},{"x":100.1,"y":0.18},{"x":100.6,"y":0.165},{"x":100.9,"y":0.155},{"x":101.4,"y":0.14},{"x":101.9,"y":0.155},{"x":102.4,"y":0.165},{"x":102.7,"y":0.19},{"x":103.1,"y":0.24},{"x":103.6,"y":0.25},{"x":103.9,"y":0.24},{"x":104.2,"y":0.31},{"x":104.5,"y":0.345},{"x":104.8,"y":0.335},{"x":105.0,"y":0.25},{"x":105.4,"y":0.226},{"x":105.7,"y":0.214},{"x":106.2,"y":0.19},{"x":106.7,"y":0.165},{"x":107.2,"y":0.14},{"x":107.65,"y":0.155},{"x":108.1,"y":0.13},{"x":108.4,"y":0.165},{"x":108.85,"y":0.14},{"x":109.35,"y":0.106},{"x":109.8,"y":0.214},{"x":110.2,"y":0.226},{"x":110.5,"y":0.214},{"x":110.8,"y":0.24},{"x":111.1,"y":0.214},{"x":111.5,"y":0.214},{"x":111.85,"y":0.24},
{"x":112.2,"y":0.24},{"x":112.55,"y":0.226},{"x":112.9,"y":0.214},{"x":113.2,"y":0.31},{"x":113.5,"y":0.32},{"x":113.9,"y":0.275},{"x":114.25,"y":0.24},{"x":114.6,"y":0.226},{"x":114.8,"y":0.2},{"x":115.2,"y":0.155},{"x":115.55,"y":0.18},{"x":115.9,"y":0.165},{"x":116.3,"y":0.18},{"x":116.65,"y":0.13},{"x":116.9,"y":0.19},{"x":117.25,"y":0.18},{"x":117.6,"y":0.165},{"x":117.95,"y":0.14},{"x":118.3,"y":0.165},{"x":118.7,"y":0.25},{"x":119.05,"y":0.26},{"x":119.4,"y":0.285},{"x":119.65,"y":0.26},{"x":120.0,"y":0.275},{"x":120.4,"y":0.3},{"x":120.85,"y":0.36},{"x":121.2,"y":0.31},{"x":121.6,"y":0.275},{"x":121.9,"y":0.24},{"x":122.3,"y":0.214},{"x":122.8,"y":0.2},{"x":123.25,"y":0.19},{"x":123.7,"y":0.18},{"x":124.2,"y":0.155},{"x":124.7,"y":0.13},{"x":125.05,"y":0.118},{"x":125.3,"y":0.24},{"x":125.65,"y":0.19},{"x":126.1,"y":0.18},{"x":126.6,"y":0.155},{"x":127.1,"y":0.13},{"x":127.6,"y":0.106},{"x":128.05,"y":0.082},{"x":128.4,"y":0.07},{"x":128.65,"y":0.14},{"x":129.0,"y":0.094},{"x":129.25,"y":0.2},{"x":129.6,"y":0.24},{"x":130.0,"y":0.285},{"x":130.35,"y":0.31},{"x":130.7,"y":0.32},{"x":130.95,"y":0.36},{"x":131.3,"y":0.32},{"x":131.4,"y":0.285},{"x":131.8,"y":0.25},{"x":132.15,"y":0.24},{"x":132.5,"y":0.285},{"x":132.9,"y":0.24},{"x":133.2,"y":0.214},{"x":133.6,"y":0.214},{"x":133.95,"y":0.18},{"x":134.3,"y":0.26},{"x":134.65,"y":0.25},{"x":135.15,"y":0.26},{"x":135.6,"y":0.285},{"x":135.9,"y":0.24},{"x":136.1,"y":0.5},{"x":136.45,"y":0.455},{"x":136.7,"y":0.395},{"x":137.1,"y":0.36},{"x":137.4,"y":0.32},{"x":137.7,"y":0.32},{"x":138.05,"y":0.275},{"x":138.4,"y":0.26},{"x":138.75,"y":0.26},{"x":139.1,"y":0.25},{"x":139.35,"y":0.26},{"x":139.75,"y":0.24},{"x":140.1,"y":0.214},
{"x":140.4,"y":0.24},{"x":140.7,"y":0.214},{"x":141.0,"y":0.285},{"x":141.3,"y":0.214},{"x":141.7,"y":0.19},{"x":142.05,"y":0.18},{"x":142.4,"y":0.165},{"x":142.8,"y":0.19},{"x":143.0,"y":0.2},{"x":143.5,"y":0.2},{"x":143.85,"y":0.18},{"x":144.2,"y":0.165},{"x":144.6,"y":0.19},{"x":144.9,"y":0.165},{"x":145.3,"y":0.155},{"x":145.65,"y":0.155},{"x":146.0,"y":0.14},{"x":146.4,"y":0.13},{"x":146.7,"y":0.165},{"x":147.1,"y":0.155},{"x":147.45,"y":0.13},{"x":147.8,"y":0.106},{"x":148.2,"y":0.18},{"x":148.5,"y":0.165},{"x":148.9,"y":0.19},{"x":149.25,"y":0.18},{"x":149.6,"y":0.2},{"x":150.0,"y":0.214},{"x":150.3,"y":0.19},{"x":150.7,"y":0.18},{"x":151.05,"y":0.2},{"x":151.4,"y":0.165},{"x":151.8,"y":0.14},{"x":152.1,"y":0.13},{"x":152.5,"y":0.118},{"x":152.85,"y":0.094},{"x":153.3,"y":0.082},{"x":153.8,"y":0.07},{"x":154.2,"y":0.058},{"x":154.55,"y":0.094},{"x":154.9,"y":0.14},{"x":155.3,"y":0.155},{"x":155.6,"y":0.178}
],
"ends":[
{"s":"c","k":"raw","x":171.4,"y":0},{"s":"m","k":"raw","x":155.6,"y":1},{"s":"c","k":"smooth","x":171.2,"y":0.405},{"s":"m","k":"smooth","x":155.6,"y":0.178}
]
},
"layer":[
{"data":{"name":"rc"},"mark":{"type":"rect","color":"#5bc5db","opacity":0.14,"clip":true},
 "encoding":{
  "x":{"field":"x","type":"quantitative","scale":{"domain":[0,171.45],"nice":false,"zero":false},
   "axis":{"values":[50,100,150],"labelExpr":"datum.value + 'M'","title":"Step","grid":false,"domain":true,"domainColor":"#858585","domainWidth":2,"ticks":true,"tickColor":"#e0e0e0","tickWidth":3,"tickSize":22,"labelFont":"Lato","labelFontSize":64,"labelColor":"#6b6b76","labelPadding":28,"labelFlush":false,"titleFont":"Lato","titleFontSize":64,"titleFontWeight":"normal","titleColor":"#6b6b76","titleAnchor":"end","titleAlign":"right","titleBaseline":"alphabetic","titleX":2347,"titleY":-24,"zindex":1}},
  "x2":{"field":"x2"},
  "y":{"field":"y","type":"quantitative","scale":{"domain":[0,7.2],"nice":false},
   "axis":{"values":[0,1,2,3,4,5,6,7],"format":"d","title":null,"grid":true,"gridColor":"#e6e6ea","gridWidth":2,"domain":false,"ticks":false,"tickSize":0,"labelFont":"Lato","labelFontSize":64,"labelColor":"#6b6b76","labelPadding":60,"labelAlign":"right","labelBaseline":"middle"}},
  "y2":{"datum":0}}},
{"data":{"name":"sc"},"mark":{"type":"line","color":"#5bc5db","strokeWidth":8,"clip":true},
 "encoding":{"x":{"field":"x","type":"quantitative"},"y":{"field":"y","type":"quantitative"}}},
{"data":{"name":"rm"},"mark":{"type":"rect","color":"#a12864","opacity":0.13,"clip":true},
 "encoding":{"x":{"field":"x","type":"quantitative"},"x2":{"field":"x2"},"y":{"field":"y","type":"quantitative"},"y2":{"datum":0}}},
{"data":{"name":"sm"},"mark":{"type":"line","color":"#a12864","strokeWidth":9.5,"clip":true},
 "encoding":{"x":{"field":"x","type":"quantitative"},"y":{"field":"y","type":"quantitative"}}},
{"data":{"name":"ends"},"mark":{"type":"point","shape":"circle","filled":true,"size":420,"clip":true},
 "encoding":{"x":{"field":"x","type":"quantitative"},"y":{"field":"y","type":"quantitative"},
  "color":{"field":"s","type":"nominal","scale":{"domain":["c","m"],"range":["#5bc5db","#a12864"]},"legend":null},
  "opacity":{"field":"k","type":"nominal","scale":{"domain":["raw","smooth"],"range":[0.15,1]},"legend":null}}}
]
}
